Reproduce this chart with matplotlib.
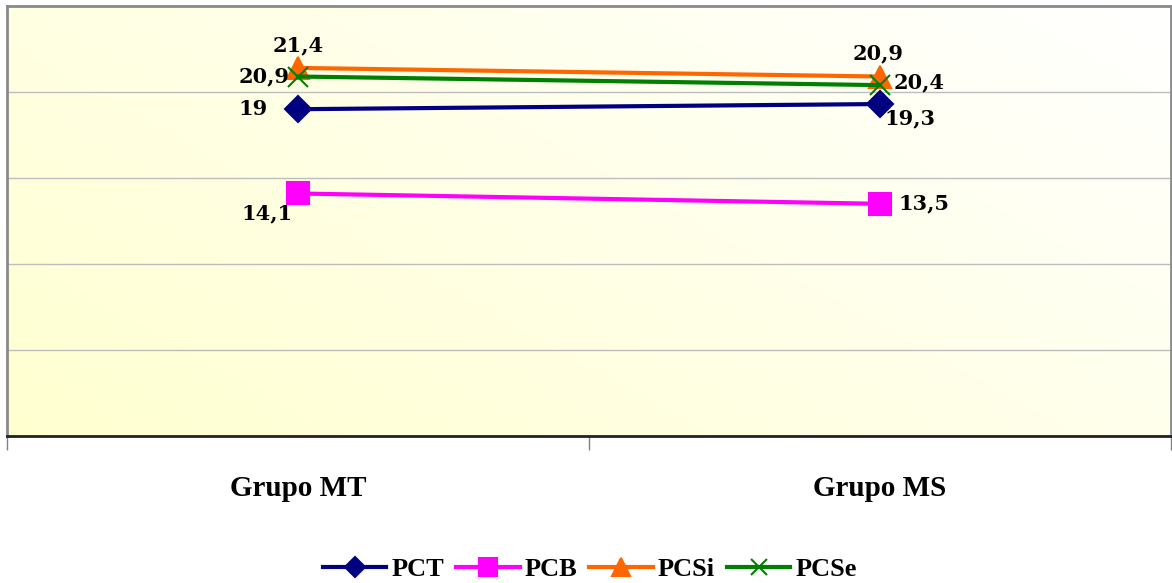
import matplotlib
matplotlib.use('Agg')
import numpy as np
import matplotlib.pyplot as plt
from matplotlib.colors import LinearSegmentedColormap

# datos
grupos = ["Grupo MT", "Grupo MS"]
pct = [19, 19.3]
pcb = [14.1, 13.5]
pcsi = [21.4, 20.9]
pcse = [20.9, 20.4]
series_nombres = ["PCT", "PCB", "PCSi", "PCSe"]

fig = plt.figure(figsize=(11.72, 5.83), dpi=100)
ax = fig.add_axes([7 / 1172, 147 / 583, 1164 / 1172, 430 / 583])

# fondo degradado (amarillo abajo-izquierda -> blanco arriba-derecha)
gx, gy = np.meshgrid(np.linspace(0, 1, 200), np.linspace(0, 1, 200))
grad = (gx * 0.6 + gy * 0.4)
cmap = LinearSegmentedColormap.from_list("fondo", ["#FFFFD0", "#FFFFFF"])
ax.imshow(grad, cmap=cmap, extent=[0, 1, 0, 1], transform=ax.transAxes,
          origin="lower", aspect="auto", zorder=0)

x = np.arange(len(grupos))
estilos = [
    (pct, "#000080", "D", 13, 1.5),
    (pcb, "#FF00FF", "s", 16, 1.5),
    (pcsi, "#FF6600", "^", 16, 1.5),
    (pcse, "#008000", "x", 15, 1.5),
]
for (vals, col, mk, ms, mew), nombre in zip(estilos, series_nombres):
    ax.plot(x, vals, color=col, lw=3, marker=mk, markersize=ms,
            markeredgewidth=mew, label=nombre, zorder=3)

# etiquetas de datos (desplazamiento en pixeles)
etq_font = dict(family="DejaVu Serif", weight="bold", fontsize=15, color="black")
def etiqueta(xi, v, dx, dy, ha, va):
    ax.annotate(f"{v:g}".replace(".", ","), (xi, v), xytext=(dx, dy),
                textcoords="offset pixels", ha=ha, va=va, zorder=5, **etq_font)

etiqueta(0, pct[0], -30, 0, "right", "center")
etiqueta(1, pct[1], 4, -14, "left", "center")
etiqueta(0, pcb[0], -5, -20, "right", "center")
etiqueta(1, pcb[1], 18, 0, "left", "center")
etiqueta(0, pcsi[0], 0, 23, "center", "center")
etiqueta(1, pcsi[1], -2, 23, "center", "center")
etiqueta(0, pcse[0], -8, 0, "right", "center")
etiqueta(1, pcse[1], 14, 3, "left", "center")

ax.set_xlim(-0.5, 1.5)
ax.set_ylim(0, 25)
ax.set_yticks([0, 5, 10, 15, 20, 25])
ax.yaxis.grid(True, color="#BDBDBD", lw=1)
ax.tick_params(axis="y", length=0, labelleft=False)
ax.set_axisbelow(True)

ax.set_xticks([-0.5, 0.5, 1.5])
ax.set_xticklabels([])
ax.tick_params(axis="x", which="major", length=10, width=1, color="#808080", direction="out")
ax.set_xticks(x, minor=True)
ax.set_xticklabels(grupos, minor=True, fontsize=21, fontweight="bold",
                   family="Liberation Serif")
ax.tick_params(axis="x", which="minor", length=0, pad=28)

for lado in ["top", "left", "right"]:
    ax.spines[lado].set_color("#8A8A8A")
    ax.spines[lado].set_linewidth(2)
ax.spines["bottom"].set_color("#222222")
ax.spines["bottom"].set_linewidth(2)

fig.legend(loc="center", bbox_to_anchor=(590 / 1172, 1 - 569 / 583), ncol=4,
           frameon=False, prop=dict(family="Liberation Serif", weight="bold", size=19),
           handlelength=2.4, handletextpad=0.2, columnspacing=0.45, markerscale=0.8)

plt.savefig("out.png", dpi=100)
plt.close()
